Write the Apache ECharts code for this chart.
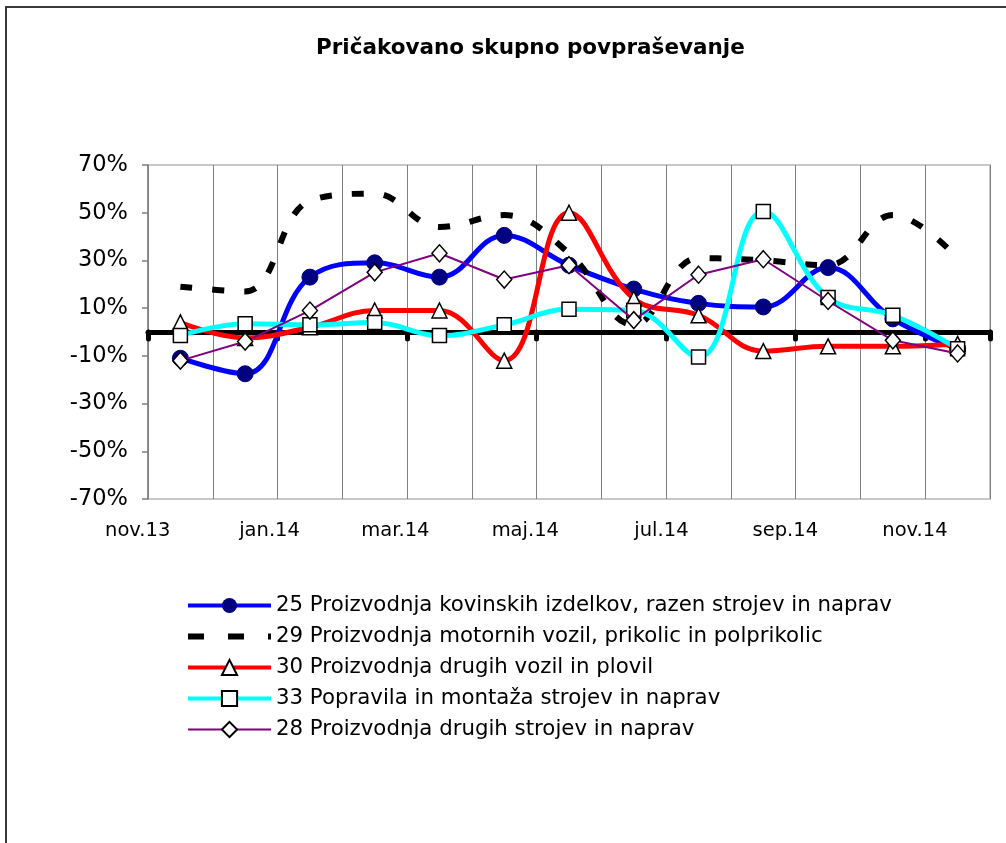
<!DOCTYPE html>
<html>
<head>
<meta charset="utf-8">
<script src="https://cdn.jsdelivr.net/npm/echarts@6/dist/echarts.min.js"></script>
<style>
html,body{margin:0;padding:0;background:#fff;}
#wrap{position:relative;width:1006px;height:843px;}
#chart{position:absolute;left:0;top:0;width:1006px;height:843px;}
#frame{position:absolute;left:5px;top:6px;right:-10px;bottom:-10px;border-top:2px solid #3a3a3a;border-left:2px solid #3a3a3a;pointer-events:none;}
</style>
</head>
<body>
<div id="wrap"><div id="chart"></div><div id="frame"></div></div>
<script>
const months = ['nov.13','dec.13','jan.14','feb.14','mar.14','apr.14','maj.14','jun.14','jul.14','avg.14','sep.14','okt.14','nov.14'];
const yTicks = [-70,-50,-30,-10,10,30,50,70];
const name25 = '25 Proizvodnja kovinskih izdelkov, razen strojev in naprav';
const name29 = '29 Proizvodnja motornih vozil, prikolic in polprikolic';
const name30 = '30 Proizvodnja drugih vozil in plovil';
const name33 = '33 Popravila in montaža strojev in naprav';
const name28 = '28 Proizvodnja drugih strojev in naprav';
const s25 = [-11, -17.5, 23, 29, 23, 40.5, 28, 18, 12, 10.5, 27, 5.5, -7];
const s29 = [19, 17, 55, 58, 44, 49, 33, 3, 31, 30, 28, 49, 31];
const s30 = [4, -2.5, 2, 9, 9, -12, 50, 14, 7, -8, -6, -6, -5];
const s33 = [-1.5, 3.5, 3, 4, -1.5, 3, 9.5, 9, -10.5, 50.5, 14.5, 7, -7];
const s28 = [-12, -4, 9, 25, 33, 22, 28, 5, 24, 30.5, 13, -3.5, -9];

const FONT = 'DejaVu Sans';
const chart = echarts.init(document.getElementById('chart'), null, {renderer:'canvas'});
const hollow = {color:'#ffffff', borderColor:'#000000', borderWidth:1.5};
chart.setOption({
  animation:false,
  backgroundColor:'#ffffff',
  title:{
    text:'Pričakovano skupno povpraševanje',
    left:311, top:32,
    textStyle:{fontFamily:FONT, fontSize:21.5, fontWeight:'bold', color:'#000'}
  },
  legend:{
    orient:'vertical', left:180, top:588,
    itemWidth:83, itemHeight:19, itemGap:6,
    textStyle:{fontFamily:FONT, fontSize:21.3, color:'#000', lineHeight:25},
    data:[
      {name:name25, lineStyle:{width:4, color:'#0000ff'}},
      {name:name29, lineStyle:{width:6, color:'#000000', type:[16,24]}, itemStyle:{color:'transparent', borderWidth:0, opacity:0}},
      {name:name30, lineStyle:{width:4, color:'#ff0000'}},
      {name:name33, lineStyle:{width:4, color:'#00ffff'}},
      {name:name28, lineStyle:{width:2, color:'#800080'}}
    ]
  },
  grid:{left:148, right:16, top:165, bottom:344, show:true, borderColor:'#c8c8c8', borderWidth:2, backgroundColor:'transparent'},
  xAxis:[{
    type:'category', data:months, boundaryGap:true, position:'bottom',
    axisLine:{onZero:true, lineStyle:{color:'#000', width:5}},
    axisTick:{show:true, interval:1, length:7, inside:false, lineStyle:{color:'#000', width:5, cap:'round'}},
    axisLabel:{show:false},
    splitLine:{show:true, interval:0, lineStyle:{color:'#808080', width:1}}
  },{
    type:'category', data:months, boundaryGap:true, position:'bottom',
    axisLine:{show:false, onZero:false}, axisTick:{show:false},
    axisLabel:{interval:1, align:'right', padding:[0,10,0,0], margin:22, fontFamily:FONT, fontSize:19.5, color:'#000'},
    splitLine:{show:false}
  }],
  yAxis:{
    type:'value', min:-70, max:70, interval:10,
    axisLine:{show:true, lineStyle:{color:'#808080', width:1.5}},
    axisTick:{show:true, length:6, customValues:yTicks, lineStyle:{color:'#808080', width:1.5}},
    axisLabel:{customValues:yTicks, margin:20, fontFamily:FONT, fontSize:22.5, color:'#000',
      formatter:function(v){ return yTicks.indexOf(v) >= 0 ? v + '%' : ''; }},
    splitLine:{show:false}
  },
  series:[
    {name:name25, type:'line', data:s25, smooth:0.4, symbol:'circle', symbolSize:16, showAllSymbol:true,
     lineStyle:{color:'#0000ff', width:5}, itemStyle:{color:'#000080', borderColor:'#000080'}, z:3},
    {name:name29, type:'line', data:s29, smooth:0.4, symbol:'none',
     lineStyle:{color:'#000000', width:6, type:[12,20]}, itemStyle:{color:'#000000'}, z:4},
    {name:name30, type:'line', data:s30, smooth:0.4, symbol:'triangle', symbolSize:[15,15], showAllSymbol:true,
     lineStyle:{color:'#ff0000', width:5}, itemStyle:hollow, z:5},
    {name:name33, type:'line', data:s33, smooth:0.4, symbol:'rect', symbolSize:14, showAllSymbol:true,
     lineStyle:{color:'#00ffff', width:5}, itemStyle:hollow, z:6},
    {name:name28, type:'line', data:s28, smooth:false, symbol:'diamond', symbolSize:[15,17], showAllSymbol:true,
     lineStyle:{color:'#800080', width:2}, itemStyle:hollow, z:7}
  ]
});
</script>
</body>
</html>
